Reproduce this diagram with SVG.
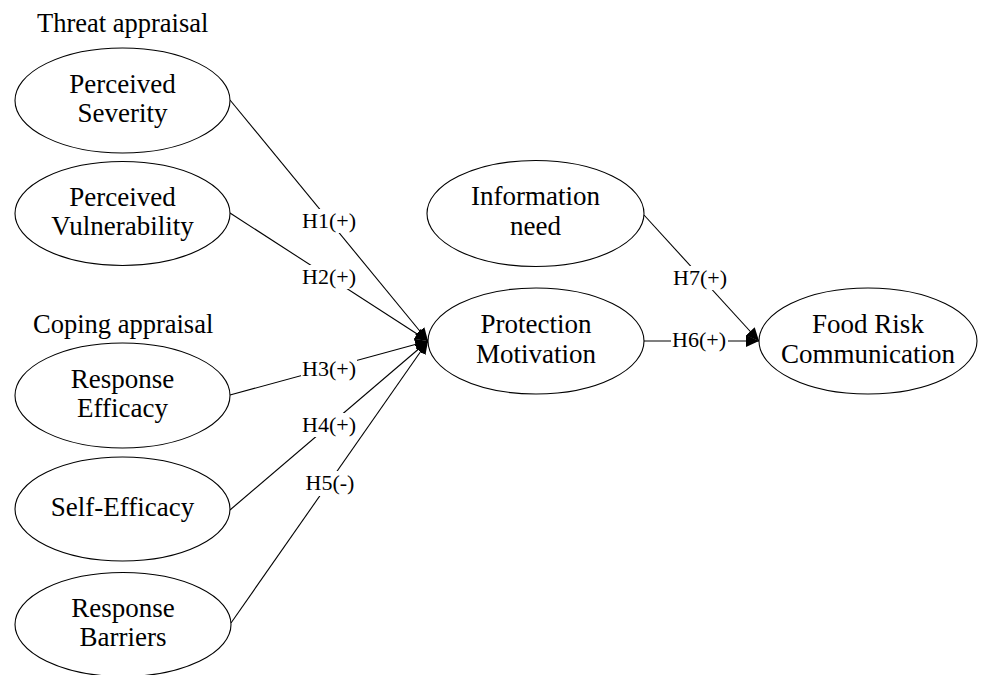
<svg xmlns="http://www.w3.org/2000/svg" width="990" height="675" viewBox="0 0 990 675">
<defs>
<marker id="arr" markerUnits="userSpaceOnUse" markerWidth="14" markerHeight="12" refX="13" refY="6" orient="auto">
<path d="M0,0 L13,6 L0,12 z" fill="#000"/>
</marker>
<style>
.n{fill:#fff;stroke:#000;stroke-width:1.1}
.t{font-family:"Liberation Serif","Times New Roman",serif;font-size:27px;fill:#000;text-anchor:middle}
.g{font-family:"Liberation Serif","Times New Roman",serif;font-size:26.5px;fill:#000}
.e{stroke:#000;stroke-width:1.1;fill:none;marker-end:url(#arr)}
.lb{fill:#fff}
.el{font-family:"Liberation Serif","Times New Roman",serif;font-size:22px;fill:#000;text-anchor:middle}
</style>
</defs>
<rect width="990" height="675" fill="#fff"/>
<text class="g" x="37" y="32">Threat appraisal</text>
<text class="g" x="33" y="333">Coping appraisal</text>
<g id="connectors">
<line class="e" x1="230" y1="100" x2="428" y2="341"/>
<line class="e" x1="230" y1="213" x2="428" y2="341"/>
<line class="e" x1="230" y1="395" x2="428" y2="341"/>
<line class="e" x1="230" y1="510" x2="428" y2="341"/>
<line class="e" x1="231" y1="623" x2="428" y2="341"/>
<line class="e" x1="644" y1="341" x2="759" y2="341"/>
<line class="e" x1="644" y1="215" x2="759" y2="341"/>
<rect class="lb" x="301" y="209" width="56" height="24"/>
<text class="el" x="329" y="228">H1(+)</text>
<rect class="lb" x="301" y="265" width="56" height="24"/>
<text class="el" x="329" y="284">H2(+)</text>
<rect class="lb" x="301" y="357" width="56" height="24"/>
<text class="el" x="329" y="376">H3(+)</text>
<rect class="lb" x="301" y="413" width="56" height="24"/>
<text class="el" x="329" y="432">H4(+)</text>
<rect class="lb" x="303" y="471" width="54" height="25"/>
<text class="el" x="330" y="490">H5(-)</text>
<rect class="lb" x="671" y="329" width="57" height="24"/>
<text class="el" x="699" y="347">H6(+)</text>
<rect class="lb" x="672" y="266" width="57" height="24"/>
<text class="el" x="700" y="285">H7(+)</text>
</g>
<g id="severity">
<ellipse class="n" cx="122.5" cy="100.5" rx="107.5" ry="52.5"/>
<text class="t" x="122.5" y="93">Perceived</text>
<text class="t" x="122.5" y="122">Severity</text>
</g>
<g id="vulnerability">
<ellipse class="n" cx="122.5" cy="213.5" rx="107.5" ry="52"/>
<text class="t" x="122.5" y="206">Perceived</text>
<text class="t" x="122.5" y="235">Vulnerability</text>
</g>
<g id="response-efficacy">
<ellipse class="n" cx="122.5" cy="395.5" rx="107.5" ry="52.5"/>
<text class="t" x="122.5" y="388">Response</text>
<text class="t" x="122.5" y="417">Efficacy</text>
</g>
<g id="self-efficacy">
<ellipse class="n" cx="122.5" cy="509" rx="107.5" ry="52"/>
<text class="t" x="122.5" y="516">Self-Efficacy</text>
</g>
<g id="response-barriers">
<ellipse class="n" cx="123" cy="624.5" rx="108" ry="52"/>
<text class="t" x="123" y="617">Response</text>
<text class="t" x="123" y="646">Barriers</text>
</g>
<g id="information-need">
<ellipse class="n" cx="535.5" cy="213.5" rx="108.5" ry="53"/>
<text class="t" x="535.5" y="205">Information</text>
<text class="t" x="535.5" y="235">need</text>
</g>
<g id="protection-motivation">
<ellipse class="n" cx="536" cy="341" rx="108" ry="53"/>
<text class="t" x="536" y="333">Protection</text>
<text class="t" x="536" y="363">Motivation</text>
</g>
<g id="food-risk-communication">
<ellipse class="n" cx="868" cy="341" rx="109" ry="53"/>
<text class="t" x="868" y="333">Food Risk</text>
<text class="t" x="868" y="363">Communication</text>
</g>
</svg>
